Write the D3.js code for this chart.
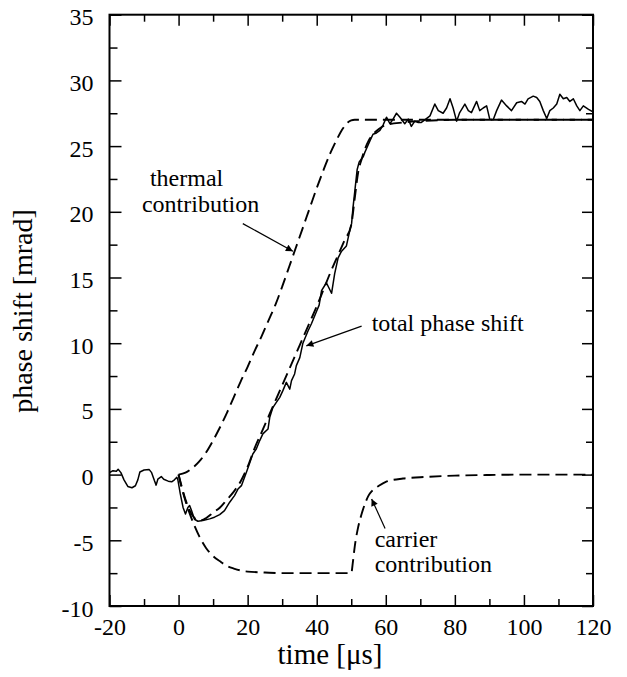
<!DOCTYPE html>
<html>
<head>
<meta charset="utf-8">
<script src="https://cdn.jsdelivr.net/npm/d3@7"></script>
<style>
  html, body { margin: 0; padding: 0; background: #fff; }
  svg { display: block; }
  text { font-family: "Liberation Serif", "Times New Roman", serif; fill: #000; }
</style>
</head>
<body>
<svg id="chart" width="627" height="677" font-family="Liberation Serif, serif"></svg>
<script>
// ---- Data ----
const xTicks = [-20, 0, 20, 40, 60, 80, 100, 120];
const yTicks = [-10, -5, 0, 5, 10, 15, 20, 25, 30, 35];

// thermal contribution (dashed)
const thermalT = [0, 2, 4, 6, 8, 10, 12, 14, 16, 18, 20, 22, 24, 26, 28, 30, 32, 34, 36, 38, 40, 42, 44, 46, 47, 48, 49, 50, 51, 52, 60, 80, 100, 120];
const thermalV = [0, 0.15, 0.5, 1.0, 1.7, 2.6, 3.6, 4.7, 5.9, 7.1, 8.2, 9.4, 10.5, 11.7, 12.9, 14.3, 15.8, 17.3, 18.8, 20.3, 21.8, 23.2, 24.5, 25.6, 26.1, 26.5, 26.8, 26.95, 27.0, 27.0, 27.0, 27.0, 27.0, 27.0];

// carrier contribution (dashed)
const carrierT = [0, 1, 2, 3, 4, 6, 8, 10, 12, 14, 16, 18, 20, 25, 30, 40, 50, 50.5, 51, 52, 53, 54, 55, 56, 58, 60, 65, 70, 80, 90, 100, 120];
const carrierV = [0, -1.1, -2.0, -2.8, -3.5, -4.7, -5.6, -6.2, -6.6, -6.95, -7.15, -7.3, -7.38, -7.45, -7.5, -7.5, -7.5, -6.6, -5.5, -4.0, -3.0, -2.2, -1.6, -1.25, -0.85, -0.55, -0.3, -0.2, -0.08, -0.03, 0, 0];

// total phase shift, model (dashed)
const totalT = [0, 1, 2, 3, 4, 5, 6, 7, 8, 10, 12, 14, 16, 18, 20, 22, 24, 26, 28, 30, 32, 34, 36, 38, 40, 42, 44, 46, 48, 50, 51, 52, 53, 54, 55, 56, 58, 60, 65, 70, 80, 120];
const totalV = [0, -1.0, -1.9, -2.6, -3.1, -3.4, -3.5, -3.45, -3.3, -2.9, -2.5, -1.9, -1.3, -0.5, 0.6, 2.0, 3.2, 4.4, 5.6, 6.8, 8.0, 9.2, 10.4, 11.6, 12.8, 14.1, 15.4, 16.6, 17.8, 19.0, 21.0, 23.0, 24.0, 24.8, 25.4, 25.8, 26.3, 26.6, 26.8, 26.9, 27.0, 27.0];

// measured total phase shift (solid, noisy)
const measT = [-20, -19, -18, -17.5, -16.7, -15.8, -14.7, -13.5, -12.5, -11.8, -11.2, -10, -8.5, -7.8, -7.0, -6.5, -6.0, -5.0, -4.3, -3.0, -2.0, -1.2, -0.5, -0.2,
  0.5, 1.3, 2.0, 2.7, 3.2, 3.7, 4.6, 5.6, 7, 9, 10.4, 11.9, 13.3, 14.8, 16.2, 17.2, 18.2, 19.8, 21.5, 22.5, 23.5, 24.4, 25.9, 26.4, 27.3, 28.3, 29.3, 30.2, 31.2, 32.2, 32.7, 33.6, 34.1, 35.1, 36, 37.5, 38.5, 39.9, 40.7, 41.4, 42.8, 44.3, 45.2, 46.2, 47.2, 48.6, 49.6, 50.1, 50.5, 51, 51.7, 52.3, 52.9, 53.5, 53.9, 54.4, 55.4, 56.3, 57.3, 58.3, 59.2, 60.2, 61.2, 62.1, 63.1, 64.1, 65.5, 66.5, 67.4, 68.4, 69.4, 70.3, 71.3, 72.8, 74.2, 75.2, 76.6, 77.6, 78.6, 79.5, 80.5, 81.4, 82.9, 83.9, 84.8, 86.3, 87.2, 88.2, 89.2, 90.1, 91.1, 92.1, 93.5, 95, 96.4, 97.9, 99.3, 100.3, 101.2, 102.7, 103.7, 104.6, 105.6, 106.6, 107.5, 108.5, 109.5, 110.4, 111.4, 112.4, 113.3, 114.3, 115.3, 116.2, 117.2, 118.7, 120];
const measV = [0.15, 0.3, 0.25, 0.4, 0.15, -0.4, -0.9, -1.0, -0.85, -0.4, 0.2, 0.35, 0.38, 0.15, -0.45, -0.8, -0.35, -0.15, -0.35, -0.5, -0.55, -0.4, -0.2, -0.4,
  -1.47, -2.5, -3.0, -2.5, -2.36, -2.7, -3.4, -3.55, -3.5, -3.37, -3.24, -3.04, -2.74, -2.1, -1.6, -1.1, -0.84, 0.3, 1.57, 1.95, 2.59, 3.1, 3.47, 4.36, 5.1, 5.5, 5.88, 6.39, 7.02, 6.5, 7.15, 7.66, 8.29, 8.9, 10.0, 10.95, 11.5, 12.4, 12.9, 14.0, 14.6, 13.8, 15.3, 16.5, 17.0, 17.4, 18.6, 19.1, 20.3, 21.5, 23.2, 23.8, 24.0, 24.2, 24.5, 24.8, 25.4, 25.9, 26.0, 26.2, 26.6, 27.2, 26.7, 27.05, 27.5, 27.2, 26.7, 27.05, 26.5, 26.9, 26.8, 26.8, 27.0, 27.3, 28.2, 27.7, 27.5, 27.9, 28.6, 27.9, 26.9, 27.55, 28.2, 27.7, 27.55, 28.4, 27.7, 27.9, 28.06, 27.05, 27.0, 27.7, 28.5, 28.06, 27.7, 28.3, 28.4, 28.2, 28.6, 28.8, 28.7, 28.4, 27.7, 27.1, 27.7, 27.9, 28.2, 28.95, 28.6, 28.7, 28.4, 28.6, 28.06, 27.7, 28.06, 27.8, 27.6];

// annotation labels: text lines, anchor in data units, arrow from/to in data units
const annoLines = [
  { lines: ["thermal", "contribution"], t: [-8.3, -10.6], v: [22.0, 20.0] },
  { lines: ["total phase shift"], t: [55.9], v: [10.94] },
  { lines: ["carrier", "contribution"], t: [56.8, 56.8], v: [-5.5, -7.4] }
];
const arrowFrom = [[18.6, 19.1], [53, 11.3], [59.8, -4.1]];
const arrowTo   = [[33.1, 17.0], [37.0, 9.8], [55.9, -1.85]];

// ---- Drawing ----
const svg = d3.select("#chart");
const L = 109.5, R = 593, T = 14.7, B = 606;
const x = d3.scaleLinear().domain([-20, 120]).range([L, R]);
const y = d3.scaleLinear().domain([-10, 35]).range([B, T]);

const FS = 24;
const fmt = d => String(d);   // plain hyphen-minus like the reference

// arrow marker
svg.append("defs").append("marker")
  .attr("id", "arr").attr("viewBox", "0 0 10 10")
  .attr("refX", 10).attr("refY", 5)
  .attr("markerWidth", 11).attr("markerHeight", 7)
  .attr("markerUnits", "userSpaceOnUse")
  .attr("orient", "auto")
  .append("path").attr("d", "M0,0 L10,5 L0,10 Z").attr("fill", "#000");

// curves
const mk = (T, V) => T.map((t, i) => [t, V[i]]);
const smooth = d3.line().x(d => x(d[0])).y(d => y(d[1])).curve(d3.curveMonotoneX);
const straight = d3.line().x(d => x(d[0])).y(d => y(d[1]));

const g = svg.append("g");
[[thermalT, thermalV], [carrierT, carrierV], [totalT, totalV]].forEach(([tt, vv]) => {
  g.append("path").attr("d", smooth(mk(tt, vv)))
    .attr("fill", "none").attr("stroke", "#000").attr("stroke-width", 1.9).attr("stroke-dasharray", "12,6");
});
g.append("path").attr("d", straight(mk(measT, measV)))
  .attr("fill", "none").attr("stroke", "#000").attr("stroke-width", 1.5).attr("stroke-linejoin", "round");

// axes with inward ticks
function styleAxis(sel) {
  sel.attr("font-family", null).attr("font-size", null);
  sel.select(".domain").remove();
  sel.selectAll(".tick line").attr("stroke", "#000").attr("stroke-width", 1.5);
  sel.selectAll("text").style("font-size", FS + "px").style("font-family", '"Liberation Serif", serif');
}
const xMinor = d3.range(-10, 120, 20);
const yMinor = d3.range(-7.5, 35, 5);

const bx = svg.append("g").attr("transform", `translate(0,${B})`)
  .call(d3.axisBottom(x).tickValues(xTicks).tickSize(-11).tickPadding(12).tickFormat(fmt));
styleAxis(bx);
const bxm = svg.append("g").attr("transform", `translate(0,${B})`)
  .call(d3.axisBottom(x).tickValues(xMinor).tickSize(-7).tickFormat(""));
styleAxis(bxm);
const tx = svg.append("g").attr("transform", `translate(0,${T})`)
  .call(d3.axisTop(x).tickValues(xTicks).tickSize(-11).tickFormat(""));
styleAxis(tx);
const txm = svg.append("g").attr("transform", `translate(0,${T})`)
  .call(d3.axisTop(x).tickValues(xMinor).tickSize(-7).tickFormat(""));
styleAxis(txm);

const ly = svg.append("g").attr("transform", `translate(${L},0)`)
  .call(d3.axisLeft(y).tickValues(yTicks).tickSize(-12).tickPadding(16).tickFormat(fmt));
styleAxis(ly);
ly.selectAll("text").attr("dy", "0.42em");
const lym = svg.append("g").attr("transform", `translate(${L},0)`)
  .call(d3.axisLeft(y).tickValues(yMinor).tickSize(-8).tickFormat(""));
styleAxis(lym);
const ry = svg.append("g").attr("transform", `translate(${R},0)`)
  .call(d3.axisRight(y).tickValues(yTicks).tickSize(-11).tickFormat(""));
styleAxis(ry);
const rym = svg.append("g").attr("transform", `translate(${R},0)`)
  .call(d3.axisRight(y).tickValues(yMinor).tickSize(-7).tickFormat(""));
styleAxis(rym);

// frame
svg.append("rect").attr("x", L).attr("y", T).attr("width", R - L).attr("height", B - T)
  .attr("fill", "none").attr("stroke", "#000").attr("stroke-width", 2);

// axis titles
svg.append("text").attr("x", 330).attr("y", 664)
  .attr("text-anchor", "middle").style("font-size", "29px").text("time [μs]");
svg.append("text").attr("transform", "translate(32,311) rotate(-90)")
  .attr("text-anchor", "middle").style("font-size", "28px").text("phase shift [mrad]");

// annotations
annoLines.forEach(a => {
  a.lines.forEach((s, i) => {
    svg.append("text").attr("x", x(a.t[i])).attr("y", y(a.v[i]))
      .style("font-size", FS + "px").text(s);
  });
});
arrowFrom.forEach((f, i) => {
  const to = arrowTo[i];
  svg.append("line")
    .attr("x1", x(f[0])).attr("y1", y(f[1]))
    .attr("x2", x(to[0])).attr("y2", y(to[1]))
    .attr("stroke", "#000").attr("stroke-width", 1.2)
    .attr("marker-end", "url(#arr)");
});
</script>
</body>
</html>
